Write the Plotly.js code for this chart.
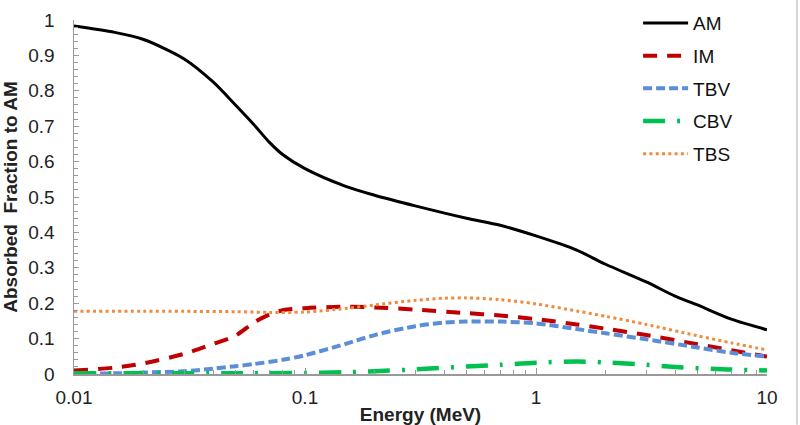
<!DOCTYPE html>
<html>
<head>
<meta charset="utf-8">
<script src="https://cdn.plot.ly/plotly-3.0.1.min.js"></script>
<style>html,body{margin:0;padding:0;background:#fff;}#chart{width:800px;height:425px;}</style>
</head>
<body>
<div id="chart"></div>
<script>
// Energy (MeV) sample points and absorbed fractions
const amE  = [0.01, 0.015, 0.02, 0.03, 0.04, 0.05, 0.06, 0.07, 0.08, 0.1, 0.15, 0.2, 0.3, 0.5, 0.7, 1, 1.5, 2, 3, 4, 5, 7, 10];
const amV  = [0.983, 0.965, 0.945, 0.89, 0.825, 0.76, 0.705, 0.655, 0.62, 0.58, 0.53, 0.505, 0.475, 0.44, 0.42, 0.39, 0.35, 0.31, 0.26, 0.22, 0.195, 0.155, 0.125];

const imE  = [0.01, 0.015, 0.02, 0.03, 0.04, 0.05, 0.06, 0.07, 0.08, 0.1, 0.15, 0.2, 0.3, 0.5, 0.7, 1, 1.5, 2, 3, 5, 7, 10];
const imV  = [0.01, 0.018, 0.03, 0.057, 0.085, 0.108, 0.145, 0.168, 0.18, 0.186, 0.19, 0.188, 0.182, 0.172, 0.165, 0.155, 0.14, 0.128, 0.11, 0.084, 0.067, 0.049];

const tbvE = [0.01, 0.015, 0.02, 0.03, 0.04, 0.05, 0.06, 0.08, 0.1, 0.15, 0.2, 0.3, 0.4, 0.5, 0.7, 1, 1.5, 2, 3, 5, 7, 10];
const tbvV = [0.0, 0.002, 0.004, 0.008, 0.015, 0.022, 0.028, 0.04, 0.053, 0.085, 0.11, 0.135, 0.145, 0.148, 0.148, 0.143, 0.127, 0.115, 0.098, 0.075, 0.06, 0.049];

const cbvE = [0.01, 0.02, 0.05, 0.1, 0.15, 0.2, 0.3, 0.5, 0.7, 1, 1.5, 2, 3, 4, 6, 10];
const cbvV = [0.002, 0.002, 0.002, 0.003, 0.005, 0.008, 0.013, 0.021, 0.026, 0.032, 0.035, 0.033, 0.026, 0.02, 0.014, 0.01];

const tbsE = [0.01, 0.02, 0.03, 0.05, 0.07, 0.1, 0.15, 0.2, 0.3, 0.4, 0.5, 0.7, 1, 1.5, 2, 3, 5, 7, 10];
const tbsV = [0.177, 0.177, 0.177, 0.176, 0.174, 0.175, 0.185, 0.195, 0.208, 0.214, 0.215, 0.21, 0.198, 0.178, 0.163, 0.14, 0.108, 0.088, 0.068];

const seriesNames = ['AM', 'IM', 'TBV', 'CBV', 'TBS'];
const xTickVals = [0.01, 0.1, 1, 10];
const xTickText = ['0.01', '0.1', '1', '10'];

const FONT = 'Liberation Sans, Arial, Helvetica, sans-serif';

function tr(name, x, y, color, width, dash) {
  return {
    type: 'scatter', mode: 'lines', name: name, x: x, y: y,
    legendgroup: name,
    line: {color: color, width: width, dash: dash, shape: 'spline', smoothing: 0.8},
    hoverinfo: 'skip'
  };
}

const data = [
  tr(seriesNames[0], amE, amV, '#000000', 3, 'solid'),
  tr(seriesNames[1], imE, imV, '#C00000', 4, '14px,10px'),
  tr(seriesNames[2], tbvE, tbvV, '#5B8ED6', 4, '9px,4px'),
  tr(seriesNames[3], cbvE, cbvV, '#00C050', 4.5, '22px,12px,3px,12px'),
  tr(seriesNames[4], tbsE, tbsV, '#F08A3C', 3, '3px,3.3px')
];

const layout = {
  width: 800, height: 425,
  margin: {l: 74, r: 33, t: 0, b: 51},
  paper_bgcolor: '#ffffff', plot_bgcolor: '#ffffff',
  font: {family: FONT, size: 19, color: '#222'},
  showlegend: true,
  legend: {
    x: 0.814, xanchor: 'left', y: 0.989, yanchor: 'top',
    bgcolor: 'rgba(0,0,0,0)', borderwidth: 0,
    font: {family: FONT, size: 19, color: '#111'},
    itemwidth: 45, tracegroupgap: 5, traceorder: 'grouped'
  },
  xaxis: {
    type: 'log', range: [-2, 1],
    tickvals: xTickVals, ticktext: xTickText,
    ticks: 'inside', ticklen: 6, tickcolor: '#999', tickwidth: 1,
    minor: {ticks: 'inside', ticklen: 4, tickcolor: '#999', dtick: 'D1', showgrid: false},
    showline: true, linecolor: '#999', linewidth: 1.5,
    showgrid: false, zeroline: false,
    tickfont: {family: FONT, size: 19, color: '#222'},
    ticklabelstandoff: 6,
    title: {text: 'Energy (MeV)', font: {family: FONT, size: 19, color: '#222', weight: 'bold'}, standoff: 0},
    automargin: false, fixedrange: true
  },
  yaxis: {
    domain: [0, 354 / 374],
    range: [0, 1], dtick: 0.1, tick0: 0,
    ticks: 'inside', ticklen: 5, tickcolor: '#999', tickwidth: 1,
    minor: {ticks: 'inside', ticklen: 4, tickcolor: '#999', dtick: 0.02, showgrid: false},
    showline: true, linecolor: '#999', linewidth: 1.5,
    showgrid: false, zeroline: false,
    tickfont: {family: FONT, size: 19, color: '#222'},
    ticklabelstandoff: 14,
    title: {text: 'Absorbed  Fraction to AM', font: {family: FONT, size: 19, color: '#222', weight: 'bold'}, standoff: 6},
    automargin: false, fixedrange: true
  },
  shapes: [{
    type: 'line', xref: 'paper', yref: 'paper',
    x0: 1.0433, x1: 1.0433, y0: -0.136, y1: 1.0,
    line: {color: '#D6D6D6', width: 2}
  }]
};

Plotly.newPlot('chart', data, layout, {staticPlot: true, displayModeBar: false});
</script>
</body>
</html>
